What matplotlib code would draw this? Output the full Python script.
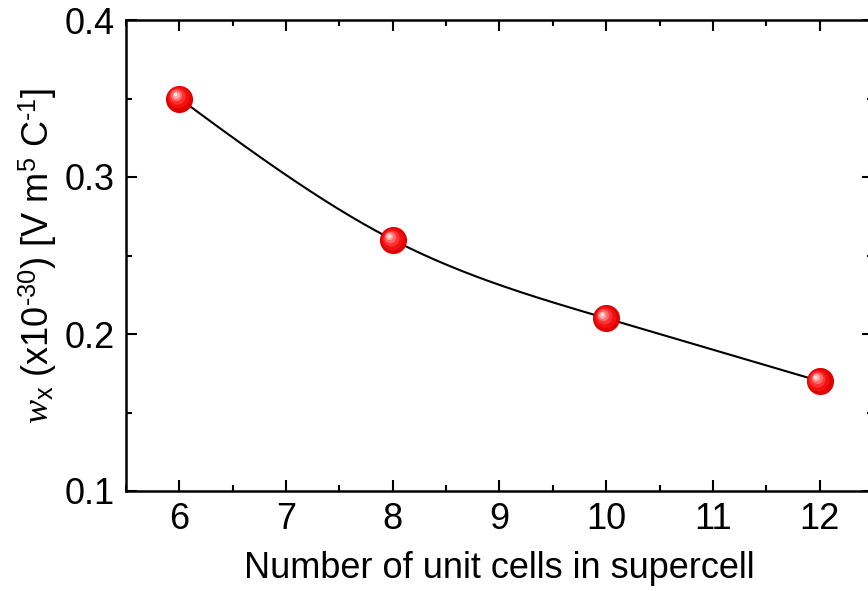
import numpy as np
import matplotlib
matplotlib.use("Agg")
import matplotlib.pyplot as plt
from matplotlib.ticker import MultipleLocator, FormatStrFormatter
import matplotlib.transforms as mtransforms

# Data
cells = [6, 8, 10, 12]
w_x = [0.35, 0.26, 0.21, 0.17]

plt.rcParams["font.family"] = ["Liberation Sans", "DejaVu Sans"]
plt.rcParams["mathtext.fontset"] = "custom"
plt.rcParams["mathtext.rm"] = "Liberation Sans"
plt.rcParams["mathtext.it"] = "Liberation Serif:italic"


def natural_spline(x, y, n=200):
    x = np.asarray(x, float)
    y = np.asarray(y, float)
    k = len(x)
    h = np.diff(x)
    A = np.zeros((k, k))
    b = np.zeros(k)
    A[0, 0] = A[-1, -1] = 1
    for i in range(1, k - 1):
        A[i, i - 1] = h[i - 1]
        A[i, i] = 2 * (h[i - 1] + h[i])
        A[i, i + 1] = h[i]
        b[i] = 6 * ((y[i + 1] - y[i]) / h[i] - (y[i] - y[i - 1]) / h[i - 1])
    M = np.linalg.solve(A, b)
    xs = np.linspace(x[0], x[-1], n)
    ys = np.empty_like(xs)
    for j, t in enumerate(xs):
        i = min(np.searchsorted(x, t, side="right") - 1, k - 2)
        a = x[i + 1] - t
        c = t - x[i]
        ys[j] = (M[i] * a**3 / (6 * h[i]) + M[i + 1] * c**3 / (6 * h[i])
                 + (y[i] / h[i] - M[i] * h[i] / 6) * a
                 + (y[i + 1] / h[i] - M[i + 1] * h[i] / 6) * c)
    return xs, ys


fig = plt.figure(figsize=(8.68, 5.91), dpi=100)
ax = fig.add_axes([126 / 868, 100 / 591, (873 - 126) / 868, 471 / 591])

xs, ys = natural_spline(cells, w_x)
ax.plot(xs, ys, color="black", lw=1.5, zorder=2)

# Shaded spheres
base = 19.5
ax.plot(cells, w_x, "o", ms=base, mfc="#e00000", mec="none", zorder=3)
layers = [(0.80, "#f01010", 0.9), (0.60, "#ff3030", 1.6), (0.42, "#ff6a6a", 2.2),
          (0.26, "#ffaaaa", 2.7), (0.13, "#ffe4e4", 3.0)]
for frac, col, off in layers:
    tr = mtransforms.offset_copy(ax.transData, fig=fig, x=-off, y=off, units="points")
    ax.plot(cells, w_x, "o", ms=base * frac, mfc=col, mec="none", zorder=4,
            transform=tr)

ax.set_xlim(5.5, 12.5)
ax.set_ylim(0.1, 0.4)
ax.xaxis.set_major_locator(MultipleLocator(1))
ax.xaxis.set_minor_locator(MultipleLocator(0.5))
ax.yaxis.set_major_locator(MultipleLocator(0.1))
ax.yaxis.set_minor_locator(MultipleLocator(0.05))
ax.yaxis.set_major_formatter(FormatStrFormatter("%.1f"))

ax.tick_params(which="both", direction="in", top=True, right=True, width=1.5,
               labelsize=26, pad=8)
ax.tick_params(which="major", length=8)
ax.tick_params(which="minor", length=4)
for s in ax.spines.values():
    s.set_linewidth(1.8)

ax.set_xlabel("Number of unit cells in supercell", fontsize=26, labelpad=10)
ax.set_ylabel(r"$w_{\mathrm{x}}$ (x10$^{\mathrm{\text{-}30}}$) [V m$^{\mathrm{5}}$ C$^{\mathrm{\text{-}1}}$]",
              fontsize=26, labelpad=4)

fig.savefig("out.png", dpi=100)
